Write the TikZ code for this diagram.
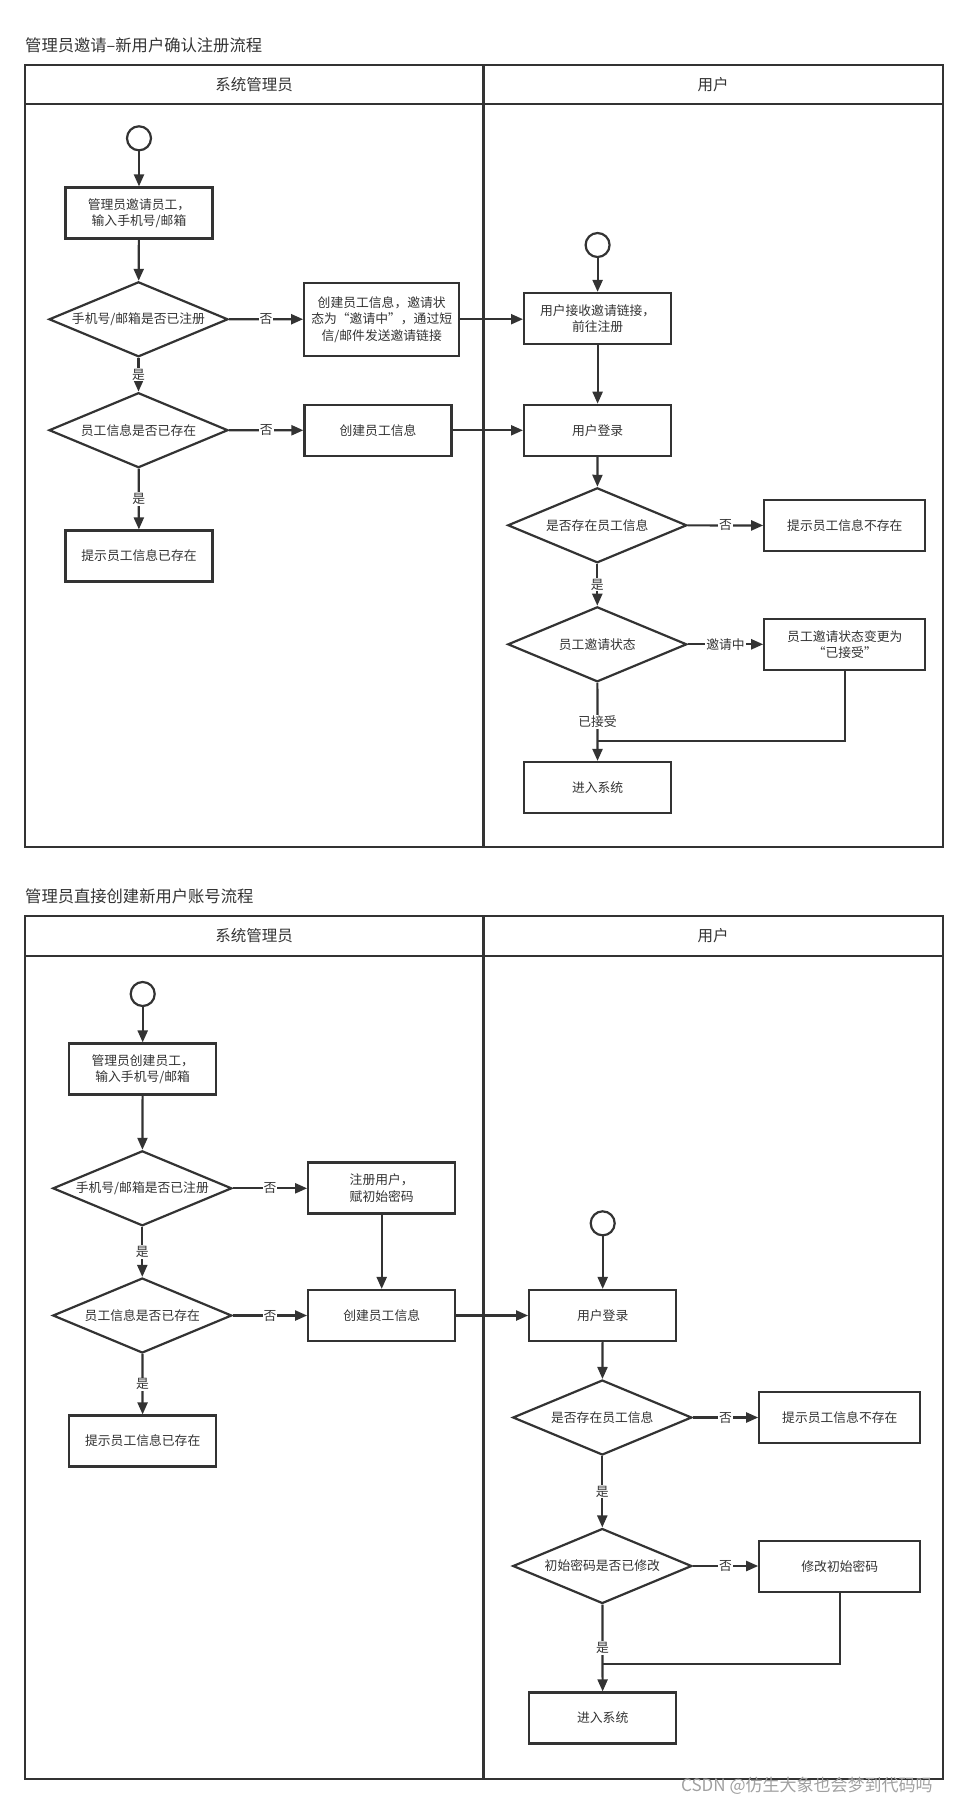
\documentclass[tikz,border=0pt]{standalone}
\usepackage{fontspec}
\setmainfont{Noto Sans CJK SC}
\usetikzlibrary{shapes.geometric,arrows.meta}
\definecolor{ln}{HTML}{333333}
\definecolor{tx}{HTML}{333333}
\definecolor{wm}{HTML}{A0A0A0}
\begin{document}
\begin{tikzpicture}[x=1pt,y=-1pt,
  every node/.style={text=tx},
  proc/.style={draw=ln,line width=2.2pt,fill=white,rectangle,minimum width=147pt,minimum height=51pt,inner sep=0pt,align=center,font=\fontsize{12.8}{16.5}\selectfont},
  dec/.style={draw=ln,line width=2.2pt,fill=white,diamond,aspect=2.37,minimum width=179pt,minimum height=75pt,inner sep=0pt,font=\fontsize{12.8}{16.5}\selectfont},
  startc/.style={draw=ln,line width=2.2pt,circle,minimum size=24pt,inner sep=0pt},
  flow/.style={draw=ln,line width=2.2pt,-{Triangle[length=12pt,width=10pt]}},
  plain/.style={draw=ln,line width=2.2pt},
  lbl/.style={fill=white,inner sep=1pt,font=\fontsize{12.8}{14}\selectfont},
  lane/.style={draw=ln,line width=2.2pt},
  ttl/.style={anchor=west,inner sep=0pt,font=\fontsize{16.3}{18}\selectfont},
  hdr/.style={font=\fontsize{15.5}{17}\selectfont}
]
\useasboundingbox (0,0) rectangle (968,1805);

% ================= Section 1 =================
\node[ttl] (t1) at (25,45) {管理员邀请–新用户确认注册流程};
\draw[lane] (25,65) rectangle (943,846.8);
\draw[lane] (25,104.3) -- (943,104.3);
\draw[lane] (483.5,65) -- (483.5,846.8);
\node[hdr] (h1a) at (254,84.7) {系统管理员};
\node[hdr] (h1b) at (713,84.7) {用户};

\node[startc] (s1c) at (139,138.3) {};
\node[proc] (s1b1) at (139,213) {管理员邀请员工，\\输入手机号/邮箱};
\node[dec] (s1d1) at (138.5,319.3) {手机号/邮箱是否已注册};
\node[proc,minimum width=155pt,minimum height=73pt] (s1inv) at (381.7,319.2) {创建员工信息，邀请状\\态为“邀请中”，通过短\\信/邮件发送邀请链接};
\node[dec] (s1d2) at (138.5,430.2) {员工信息是否已存在};
\node[proc] (s1crt) at (378,430.3) {创建员工信息};
\node[proc] (s1ex) at (139,556) {提示员工信息已存在};

\node[startc] (s1c2) at (597.6,245) {};
\node[proc] (s1rcv) at (597.6,318.5) {用户接收邀请链接，\\前往注册};
\node[proc] (s1lg) at (597.6,430.3) {用户登录};
\node[dec] (s1d3) at (597.3,525.3) {是否存在员工信息};
\node[proc,minimum width=161pt] (s1ne) at (844.8,525.5) {提示员工信息不存在};
\node[dec] (s1d4) at (597.3,644.3) {员工邀请状态};
\node[proc,minimum width=161pt] (s1chg) at (844.8,644.5) {员工邀请状态变更为\\“已接受”};
\node[proc] (s1ent) at (597.6,787.5) {进入系统};
\coordinate (s1m) at (597.6,740.7);

\draw[flow] (s1c) -- (s1b1);
\draw[flow] (s1b1) -- (s1d1);
\draw[flow] (s1d1) -- node[lbl] {否} (s1inv);
\draw[flow] (s1d1) -- node[lbl] {是} (s1d2);
\draw[flow] (s1d2) -- node[lbl] {否} (s1crt);
\draw[flow] (s1d2) -- node[lbl] {是} (s1ex);
\draw[flow] (s1inv.east) -- (s1rcv.west |- s1inv.east);
\draw[flow] (s1crt) -- (s1lg);
\draw[flow] (s1c2) -- (s1rcv);
\draw[flow] (s1rcv) -- (s1lg);
\draw[flow] (s1lg) -- (s1d3);
\draw[flow] (s1d3) -- node[lbl] {否} (s1ne);
\draw[flow] (s1d3) -- node[lbl] {是} (s1d4);
\draw[flow] (s1d4) -- node[lbl] {邀请中} (s1ne.west |- s1d4.east);
\draw[flow] (s1d4) -- node[lbl] {已接受} (s1ent);
\draw[plain] (s1chg.south) |- (s1m);

% ================= Section 2 =================
\node[ttl] (t2) at (25,896.7) {管理员直接创建新用户账号流程};
\draw[lane] (25,915.7) rectangle (943,1779.3);
\draw[lane] (25,956) -- (943,956);
\draw[lane] (483.5,915.7) -- (483.5,1779.3);
\node[hdr] (h2a) at (254,936) {系统管理员};
\node[hdr] (h2b) at (713,936) {用户};

\node[startc] (s2c) at (142.7,994) {};
\node[proc] (s2b1) at (142.7,1069) {管理员创建员工，\\输入手机号/邮箱};
\node[dec] (s2d1) at (142.3,1188.3) {手机号/邮箱是否已注册};
\node[proc] (s2reg) at (381.7,1188) {注册用户，\\赋初始密码};
\node[dec] (s2d2) at (142.3,1315.5) {员工信息是否已存在};
\node[proc] (s2crt) at (381.7,1315.5) {创建员工信息};
\node[proc] (s2ex) at (142.7,1441) {提示员工信息已存在};

\node[startc] (s2c2) at (602.7,1223.3) {};
\node[proc] (s2lg) at (602.7,1315.5) {用户登录};
\node[dec] (s2d3) at (602.3,1417.5) {是否存在员工信息};
\node[proc,minimum width=161pt] (s2ne) at (839.8,1417.3) {提示员工信息不存在};
\node[dec] (s2d4) at (602.3,1566) {初始密码是否已修改};
\node[proc,minimum width=161pt] (s2mod) at (839.8,1566.3) {修改初始密码};
\node[proc] (s2ent) at (602.7,1718) {进入系统};
\coordinate (s2m) at (602.7,1664);

\draw[flow] (s2c) -- (s2b1);
\draw[flow] (s2b1) -- (s2d1);
\draw[flow] (s2d1) -- node[lbl] {否} (s2reg.west |- s2d1.east);
\draw[flow] (s2d1) -- node[lbl] {是} (s2d2);
\draw[flow] (s2d2) -- node[lbl] {否} (s2crt);
\draw[flow] (s2d2) -- node[lbl] {是} (s2ex);
\draw[flow] (s2reg) -- (s2crt);
\draw[flow] (s2crt) -- (s2lg);
\draw[flow] (s2c2) -- (s2lg);
\draw[flow] (s2lg) -- (s2d3);
\draw[flow] (s2d3) -- node[lbl] {否} (s2ne.west |- s2d3.east);
\draw[flow] (s2d3) -- node[lbl] {是} (s2d4);
\draw[flow] (s2d4) -- node[lbl] {否} (s2mod.west |- s2d4.east);
\draw[flow] (s2d4) -- node[lbl] {是} (s2ent);
\draw[plain] (s2mod.south) |- (s2m);

% watermark
\node[anchor=west,inner sep=0pt,text=wm,font=\fontsize{17}{19}\selectfont] (wm) at (681,1786) {CSDN @仿生大象也会梦到代码吗};
\end{tikzpicture}
\end{document}
